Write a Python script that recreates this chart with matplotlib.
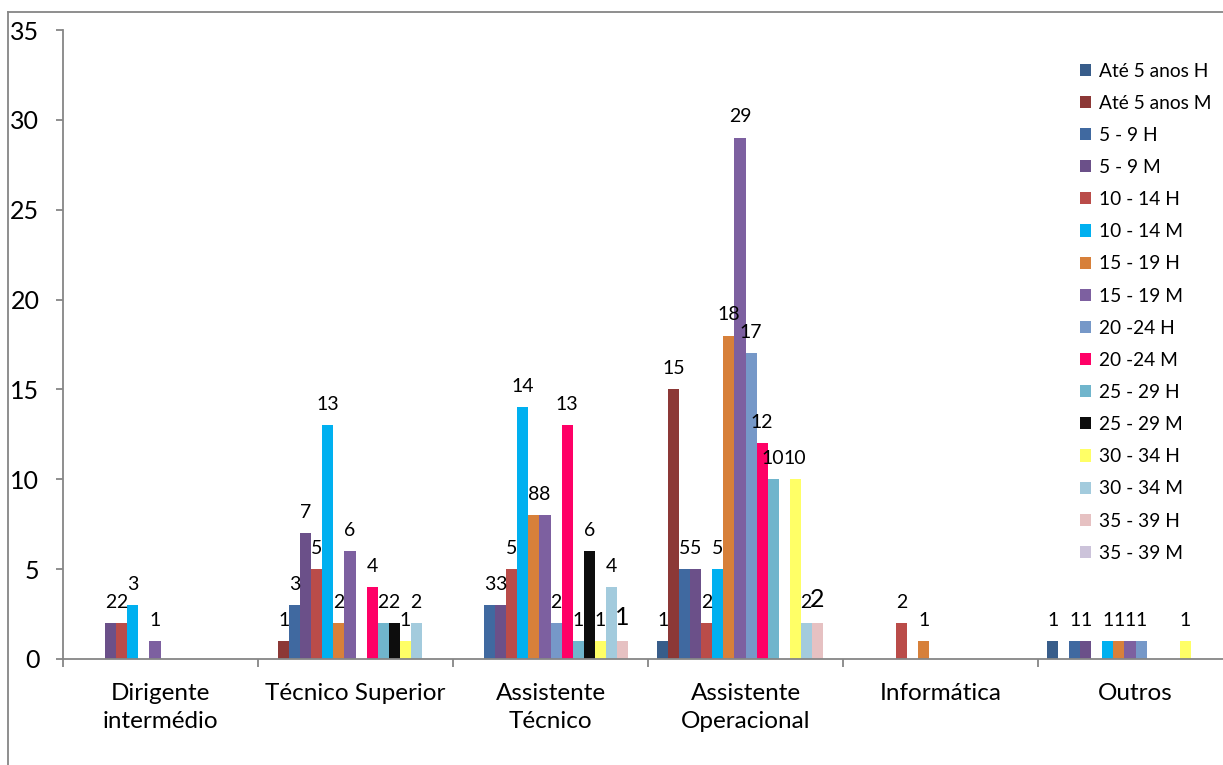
import numpy as np
import matplotlib.pyplot as plt
from matplotlib.lines import Line2D

plt.rcParams['font.family'] = ['Lato', 'DejaVu Sans']

categorias = ['Dirigente\nintermédio', 'Técnico Superior', 'Assistente\nTécnico',
              'Assistente\nOperacional', 'Informática', 'Outros']

series = ['Até 5 anos H', 'Até 5 anos M', '5 - 9 H', '5 - 9 M', '10 - 14 H', '10 - 14 M',
          '15 - 19 H', '15 - 19 M', '20 -24 H', '20 -24 M', '25 - 29 H', '25 - 29 M',
          '30 - 34 H', '30 - 34 M', '35 - 39 H', '35 - 39 M']

ate5_h = [0, 0, 0, 1, 0, 1]
ate5_m = [0, 1, 0, 15, 0, 0]
a5_9_h = [0, 3, 3, 5, 0, 1]
a5_9_m = [2, 7, 3, 5, 0, 1]
a10_14_h = [2, 5, 5, 2, 2, 0]
a10_14_m = [3, 13, 14, 5, 0, 1]
a15_19_h = [0, 2, 8, 18, 1, 1]
a15_19_m = [1, 6, 8, 29, 0, 1]
a20_24_h = [0, 0, 2, 17, 0, 1]
a20_24_m = [0, 4, 13, 12, 0, 0]
a25_29_h = [0, 2, 1, 10, 0, 0]
a25_29_m = [0, 2, 6, 0, 0, 0]
a30_34_h = [0, 1, 1, 10, 0, 1]
a30_34_m = [0, 2, 4, 2, 0, 0]
a35_39_h = [0, 0, 1, 2, 0, 0]
a35_39_m = [0, 0, 0, 0, 0, 0]

valores = [ate5_h, ate5_m, a5_9_h, a5_9_m, a10_14_h, a10_14_m, a15_19_h, a15_19_m,
           a20_24_h, a20_24_m, a25_29_h, a25_29_m, a30_34_h, a30_34_m, a35_39_h, a35_39_m]

cores = ['#385D8A', '#8C3836', '#4069A0', '#6B5089', '#BA4C49', '#00B0F0',
         '#D7803A', '#7D60A0', '#7698C8', '#FF0066', '#70B5CC', '#0D0D0D',
         '#FFFF66', '#A3CBDD', '#E6C1C2', '#CCC3DA']

fig = plt.figure(figsize=(12.23, 7.65), dpi=100)
ax = fig.add_axes([63 / 1223, 106 / 765, 1170 / 1223, 629 / 765])

n = len(series)
largura = 1 / 17.65
x = np.arange(len(categorias))
inicio = 0.5 - n * largura / 2

for i, (nome, vals, cor) in enumerate(zip(series, valores, cores)):
    pos = x + inicio + (i + 0.5) * largura
    ax.bar(pos, vals, width=largura, color=cor, label=nome, linewidth=0)
    tam = 18 if nome == '35 - 39 H' else 14
    for p, v in zip(pos, vals):
        if v > 0:
            ax.annotate(str(v), (p, v), xytext=(0, 9), textcoords='offset points',
                        ha='center', va='bottom', fontsize=tam)

ax.set_xlim(0, 6)
ax.set_ylim(0, 35)
ax.set_yticks(range(0, 36, 5))
ax.set_xticks(range(0, 7))
ax.set_xticklabels([])
ax.set_xticks(x + 0.5, minor=True)
ax.set_xticklabels(categorias, minor=True, fontsize=17.5, linespacing=1.45, va='top')

for s in ['top', 'right']:
    ax.spines[s].set_visible(False)
for s in ['left', 'bottom']:
    ax.spines[s].set_color('#868686')
    ax.spines[s].set_linewidth(1.3)

ax.tick_params(axis='y', direction='out', length=5, width=1.3, color='#868686',
               labelsize=18, pad=12)
ax.tick_params(axis='x', which='major', direction='out', length=6, width=1.3,
               color='#868686')
ax.tick_params(axis='x', which='minor', length=0, pad=17)

ax.legend(loc='upper left', bbox_to_anchor=(1070 / 1223, 1 - 53 / 765),
          bbox_transform=fig.transFigure, frameon=False, fontsize=13.8,
          handlelength=0.6, handleheight=0.6, handletextpad=0.4,
          labelspacing=0.79, borderpad=0)

# moldura do gráfico
fig.add_artist(Line2D([8 / 1223, 8 / 1223], [0, 1 - 12 / 765],
                      transform=fig.transFigure, color='#868686', lw=1.3))
fig.add_artist(Line2D([8 / 1223, 1], [1 - 12 / 765, 1 - 12 / 765],
                      transform=fig.transFigure, color='#868686', lw=1.3))

fig.savefig('out.png', dpi=100)
